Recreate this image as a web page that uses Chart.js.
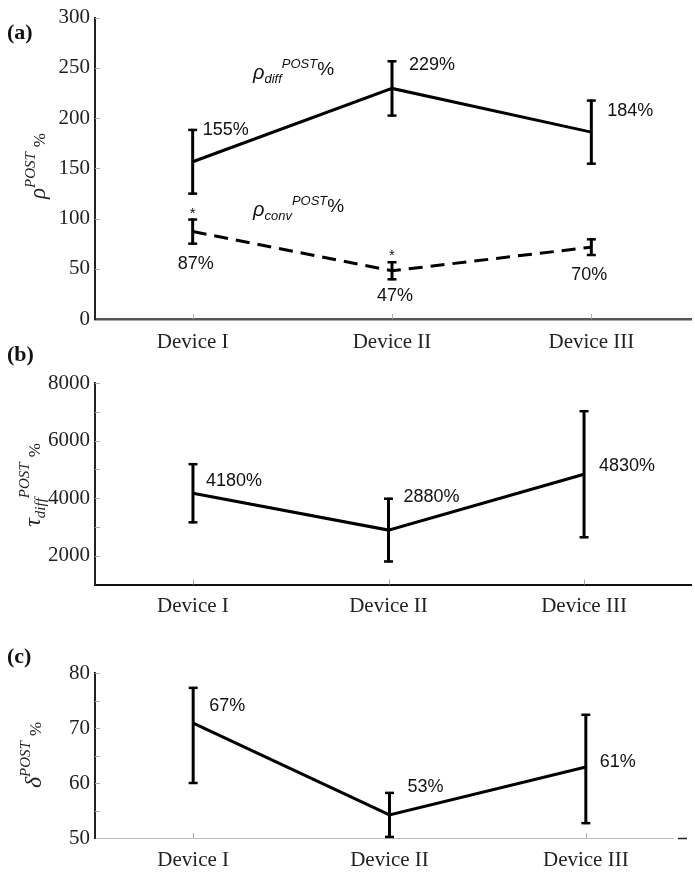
<!DOCTYPE html>
<html><head><meta charset="utf-8">
<script src="https://cdn.jsdelivr.net/npm/chart.js@4.4.1/dist/chart.umd.min.js"></script>
<style>
html,body{margin:0;padding:0;background:#fff;}
#wrap{position:relative;width:695px;height:874px;overflow:hidden;background:#fff;}
canvas{position:absolute;left:0;}
</style></head><body>
<div id="wrap">
<canvas id="ca" width="695" height="360" style="top:0px"></canvas>
<canvas id="cb" width="695" height="285" style="top:335px"></canvas>
<canvas id="cc" width="695" height="254" style="top:620px"></canvas>
</div>
<script>
// ---------- data ----------
const categories = ['Device I', 'Device II', 'Device III'];

const rhoDiff = [156.5, 229.5, 186];
const rhoDiffErr = [31.7, 27, 31.4];
const rhoDiffLabels = ['155%', '229%', '184%'];

const rhoConv = [87, 48, 71.5];
const rhoConvErr = [12, 8.5, 7.8];
const rhoConvLabels = ['87%', '47%', '70%'];
const rhoConvStars = ['*', '*', ''];

const tauDiff = [4170, 2890, 4830];
const tauDiffErr = [1010, 1090, 2190];
const tauDiffLabels = ['4180%', '2880%', '4830%'];

const deltaPost = [70.9, 54.2, 62.9];
const deltaPostLow = [60.0, 50.2, 52.7];
const deltaPostHigh = [77.3, 58.2, 72.4];
const deltaPostLabels = ['67%', '53%', '61%'];

const ticksA = [0, 300, 50];      // min, max, step
const ticksB = [1000, 8000, 1000];
const ticksC = [50, 80, 5];
const labelStepB = 2000;
const labelStepC = 10;

// ---------- helpers ----------
const SERIF = '"Liberation Serif", "Times New Roman", serif';
const SANS = '"Liberation Sans", Arial, sans-serif';

function pts(vals) { return vals.map((v, i) => ({x: i, y: v})); }

function drawRotTitle(ctx, cx, cy, parts) {
  ctx.save();
  let total = 0;
  parts.forEach(p => { ctx.font = p.font; p.w = ctx.measureText(p.text).width; total += p.w + (p.gap || 0); });
  ctx.translate(cx, cy);
  ctx.rotate(-Math.PI / 2);
  ctx.fillStyle = '#222';
  ctx.textBaseline = 'alphabetic';
  ctx.textAlign = 'left';
  let x = -total / 2;
  parts.forEach(p => { ctx.font = p.font; ctx.fillText(p.text, x, p.dy || 0); x += p.w + (p.gap || 0); });
  ctx.restore();
}

function drawParts(ctx, x, y, parts) {
  ctx.save();
  ctx.fillStyle = '#111';
  ctx.textBaseline = 'alphabetic';
  ctx.textAlign = 'left';
  parts.forEach(p => { ctx.font = p.font; ctx.fillText(p.text, x, y + (p.dy || 0)); x += ctx.measureText(p.text).width + (p.gap || 0); });
  ctx.restore();
}

function makeChart(id, cfg) {
  const canvas = document.getElementById(id);
  const H = canvas.height;
  const plugin = {
    id: 'deco' + id,
    beforeDatasetsDraw(chart) {
      const ctx = chart.ctx, xs = chart.scales.x, ys = chart.scales.y;
      const a = chart.chartArea;
      ctx.save();
      ctx.strokeStyle = '#aaa'; ctx.lineWidth = 1;
      ys.ticks.forEach(t => {
        if (t.value === ys.min) return;
        const y = Math.round(ys.getPixelForValue(t.value)) + 0.5;
        ctx.beginPath(); ctx.moveTo(a.left, y); ctx.lineTo(a.left + 5, y); ctx.stroke();
      });
      categories.forEach((c, i) => {
        const x = Math.round(xs.getPixelForValue(i)) + 0.5;
        ctx.beginPath(); ctx.moveTo(x, a.bottom); ctx.lineTo(x, a.bottom - 5); ctx.stroke();
      });
      if (cfg.endDash) {
        ctx.strokeStyle = '#222'; ctx.lineWidth = 1.5;
        ctx.beginPath(); ctx.moveTo(a.right + 5, a.bottom + 0.5); ctx.lineTo(a.right + 14, a.bottom + 0.5); ctx.stroke();
      }
      ctx.restore();
    },
    afterDatasetsDraw(chart) {
      const ctx = chart.ctx, xs = chart.scales.x, ys = chart.scales.y;
      ctx.save();
      ctx.strokeStyle = '#000'; ctx.lineCap = 'butt';
      cfg.errors.forEach(e => {
        e.lo.forEach((lo, i) => {
          const x = xs.getPixelForValue(i);
          const yt = ys.getPixelForValue(e.hi[i]);
          const yb = ys.getPixelForValue(lo);
          ctx.lineWidth = 3;
          ctx.beginPath(); ctx.moveTo(x, yt - 1); ctx.lineTo(x, yb + 1); ctx.stroke();
          ctx.lineWidth = 2.5;
          ctx.beginPath(); ctx.moveTo(x - 4.5, yt); ctx.lineTo(x + 4.5, yt); ctx.stroke();
          ctx.beginPath(); ctx.moveTo(x - 4.5, yb); ctx.lineTo(x + 4.5, yb); ctx.stroke();
        });
      });
      ctx.fillStyle = '#111';
      ctx.font = '18px ' + SANS;
      ctx.textBaseline = 'middle';
      cfg.labels.forEach(l => {
        l.texts.forEach((t, i) => {
          const x = xs.getPixelForValue(i);
          const y = ys.getPixelForValue(l.ref[i]);
          const o = l.off[i];
          ctx.textAlign = o[2] || 'left';
          ctx.fillText(t, x + o[0], y + o[1]);
        });
      });
      if (cfg.extra) cfg.extra(ctx, xs, ys, chart.chartArea);
      ctx.restore();
    },
    afterDraw(chart) {
      const ctx = chart.ctx;
      ctx.save();
      ctx.fillStyle = '#111';
      ctx.font = 'bold 22px ' + SERIF;
      ctx.textBaseline = 'middle'; ctx.textAlign = 'left';
      ctx.fillText(cfg.letter, 7, cfg.letterY);
      drawRotTitle(ctx, cfg.titleX, cfg.titleY, cfg.title);
      ctx.restore();
    }
  };

  return new Chart(canvas, {
    type: 'scatter',
    data: { datasets: cfg.datasets },
    options: {
      responsive: false,
      animation: false,
      events: [],
      layout: { padding: { top: cfg.areaTop, left: 0, right: 695 - cfg.areaRight, bottom: 0 } },
      plugins: { legend: { display: false }, tooltip: { enabled: false } },
      elements: { point: { radius: 0 } },
      scales: {
        x: {
          type: 'linear', min: cfg.xmin, max: cfg.xmax,
          afterBuildTicks: s => { s.ticks = categories.map((c, i) => ({ value: i })); },
          afterFit: s => { s.height = H - cfg.areaBottom; },
          ticks: { callback: v => categories[v], font: { family: SERIF, size: 21 }, color: '#222', padding: cfg.xPad, maxRotation: 0, autoSkip: false },
          grid: { display: true, drawOnChartArea: false, drawTicks: false, color: 'transparent' },
          border: { display: true, color: cfg.xBorderColor, width: cfg.xBorderWidth }
        },
        y: {
          type: 'linear', min: cfg.yt[0], max: cfg.yt[1],
          afterFit: s => { s.width = 95; },
          ticks: { stepSize: cfg.yt[2], callback: cfg.yLabel, font: { family: SERIF, size: 21 }, color: '#222', padding: 5, autoSkip: false },
          grid: { display: true, drawOnChartArea: false, drawTicks: false, color: 'transparent' },
          border: { display: true, color: '#222', width: 2 }
        }
      }
    },
    plugins: [plugin]
  });
}

const lo = (v, e) => v.map((x, i) => x - e[i]);
const hi = (v, e) => v.map((x, i) => x + e[i]);

// ---------- panel (a) ----------
makeChart('ca', {
  areaTop: 12, areaBottom: 319, areaRight: 691, xmin: -0.49, xmax: 2.5, xPad: 11,
  xBorderColor: '#555', xBorderWidth: 2.5,
  yt: ticksA, yLabel: v => v,
  letter: '(a)', letterY: 33,
  titleX: 45, titleY: 166,
  title: [
    { text: 'ρ', font: 'italic 23px ' + SERIF },
    { text: 'POST', font: 'italic 15px ' + SERIF, dy: -10, gap: 5 },
    { text: '%', font: '17px ' + SERIF }
  ],
  datasets: [
    { data: pts(rhoDiff), showLine: true, borderColor: '#000', borderWidth: 3, pointRadius: 0, tension: 0 },
    { data: pts(rhoConv), showLine: true, borderColor: '#000', borderWidth: 3, borderDash: [14, 8], pointRadius: 0, tension: 0 }
  ],
  errors: [
    { lo: lo(rhoDiff, rhoDiffErr), hi: hi(rhoDiff, rhoDiffErr) },
    { lo: lo(rhoConv, rhoConvErr), hi: hi(rhoConv, rhoConvErr) }
  ],
  labels: [
    { texts: rhoDiffLabels, ref: hi(rhoDiff, rhoDiffErr), off: [[10, 0], [17, 4], [16, 10]] },
    { texts: rhoConvLabels, ref: lo(rhoConv, rhoConvErr), off: [[3, 20, 'center'], [3, 17, 'center'], [-2, 20, 'center']] }
  ],
  extra: (ctx, xs, ys) => {
    ctx.font = '15px ' + SANS; ctx.textAlign = 'center'; ctx.textBaseline = 'middle';
    rhoConvStars.forEach((s, i) => {
      if (!s) return;
      ctx.fillText(s, xs.getPixelForValue(i), ys.getPixelForValue(rhoConv[i] + rhoConvErr[i]) - 6);
    });
    const itS = 'italic 20px ' + SANS, subS = 'italic 13px ' + SANS, supS = 'italic 13px ' + SANS, pc = '19px ' + SANS;
    drawParts(ctx, 253, 79, [
      { text: 'ρ', font: itS },
      { text: 'diff', font: subS, dy: 4 },
      { text: 'POST', font: supS, dy: -11 },
      { text: '%', font: pc, dy: -4 }
    ]);
    drawParts(ctx, 253, 216, [
      { text: 'ρ', font: itS },
      { text: 'conv', font: subS, dy: 4 },
      { text: 'POST', font: supS, dy: -11 },
      { text: '%', font: pc, dy: -4 }
    ]);
  }
});

// ---------- panel (b) ----------
makeChart('cb', {
  areaTop: 48, areaBottom: 249.5, areaRight: 691, xmin: -0.501, xmax: 2.547, xPad: 9,
  xBorderColor: '#111', xBorderWidth: 2,
  yt: ticksB, yLabel: v => (v % labelStepB === 0 ? v : ''),
  letter: '(b)', letterY: 20,
  titleX: 40, titleY: 150,
  title: [
    { text: 'τ', font: 'italic 24px ' + SERIF },
    { text: 'diff', font: 'italic 15px ' + SERIF, dy: 5 },
    { text: 'POST', font: 'italic 15px ' + SERIF, dy: -11, gap: 5 },
    { text: '%', font: '17px ' + SERIF }
  ],
  datasets: [
    { data: pts(tauDiff), showLine: true, borderColor: '#000', borderWidth: 3, pointRadius: 0, tension: 0 }
  ],
  errors: [ { lo: lo(tauDiff, tauDiffErr), hi: hi(tauDiff, tauDiffErr) } ],
  labels: [
    { texts: tauDiffLabels, ref: tauDiff, off: [[13, -12], [15, -33], [15, -8]] }
  ]
});

// ---------- panel (c) ----------
makeChart('cc', {
  areaTop: 53, areaBottom: 218, areaRight: 673, xmin: -0.5, xmax: 2.444, xPad: 9.5,
  xBorderColor: '#bbb', xBorderWidth: 1, endDash: true,
  yt: ticksC, yLabel: v => (v % labelStepC === 0 ? v : ''),
  letter: '(c)', letterY: 37,
  titleX: 41, titleY: 135,
  title: [
    { text: 'δ', font: 'italic 24px ' + SERIF },
    { text: 'POST', font: 'italic 15px ' + SERIF, dy: -11, gap: 5 },
    { text: '%', font: '17px ' + SERIF }
  ],
  datasets: [
    { data: pts(deltaPost), showLine: true, borderColor: '#000', borderWidth: 3, pointRadius: 0, tension: 0 }
  ],
  errors: [ { lo: deltaPostLow, hi: deltaPostHigh } ],
  labels: [
    { texts: deltaPostLabels, ref: deltaPost, off: [[16, -17], [18, -28], [14, -5]] }
  ]
});
</script>
</body></html>
